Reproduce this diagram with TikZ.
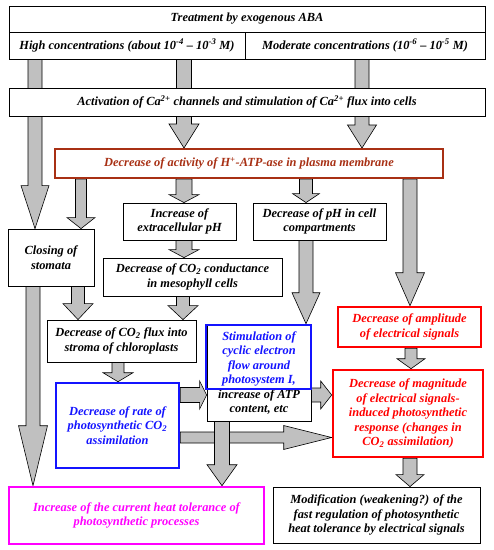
\documentclass[tikz,border=0pt]{standalone}
\usepackage{fontspec}
\setmainfont{Liberation Serif}
\usetikzlibrary{calc}
\pgfdeclarelayer{bg}
\pgfsetlayers{bg,main}
\definecolor{arrgray}{RGB}{192,192,192}
\definecolor{brownred}{RGB}{168,48,20}
\definecolor{bluebox}{RGB}{20,20,255}
\definecolor{redbox}{RGB}{255,0,0}
\definecolor{magbox}{RGB}{255,0,255}
\tikzset{
  box/.style={draw=black, line width=0.8pt, fill=white, align=center, inner sep=0pt,
    font=\fontsize{12.4}{14.5}\selectfont\bfseries\itshape},
  blockarrow/.style={draw=black, line width=0.6pt, fill=arrgray},
}
\newcommand\varr[6]{\path[blockarrow] let \p1=(#2), \p2=(#3), \p3=(#1,0) in
  (\x3-#4,\y1) -- (\x3-#4,\y2+#6) -- (\x3-#5,\y2+#6) -- (\x3,\y2) -- (\x3+#5,\y2+#6) -- (\x3+#4,\y2+#6) -- (\x3+#4,\y1) -- cycle;}
\newcommand\harr[6]{\path[blockarrow] let \p1=(#2), \p2=(#3), \p3=(0,#1) in
  (\x1,\y3+#4) -- (\x2-#6,\y3+#4) -- (\x2-#6,\y3+#5) -- (\x2,\y3) -- (\x2-#6,\y3-#5) -- (\x2-#6,\y3-#4) -- (\x1,\y3-#4) -- cycle;}
\begin{document}
\begin{tikzpicture}[x=1pt,y=-1pt]
\useasboundingbox (0,0) rectangle (494,550);
% top boxes
\node[box, minimum width=476pt, minimum height=26pt] (T) at (247,19) {Treatment by exogenous ABA};
\node[box, minimum width=236pt, minimum height=27pt] (H) at (127,45.5) {High concentrations (about 10\textsuperscript{-4} -- 10\textsuperscript{-3} M)};
\node[box, minimum width=240pt, minimum height=27pt] (M) at (365,45.5) {Moderate concentrations (10\textsuperscript{-6} -- 10\textsuperscript{-5} M)};
\node[box, minimum width=476pt, minimum height=28pt] (Act) at (247,102) {Activation of Ca\textsuperscript{2+} channels and stimulation of Ca\textsuperscript{2+} flux into cells};
\node[box, draw=brownred, line width=2pt, text=brownred, minimum width=388pt, minimum height=29pt] (HP) at (249,163.5) {Decrease of activity of H\textsuperscript{+}-ATP-ase in plasma membrane};
\node[box, minimum width=86pt, minimum height=57pt] (CS) at (51,257.5) {Closing of\\stomata};
\node[box, minimum width=113pt, minimum height=37pt] (IP) at (179.5,221.5) {Increase of\\extracellular pH};
\node[box, minimum width=133pt, minimum height=37pt] (DP) at (319.5,221.5) {Decrease of pH in cell\\compartments};
\node[box, minimum width=179pt, minimum height=38pt] (CC) at (192.5,277) {Decrease of CO\textsubscript{2} conductance\\in mesophyll cells};
\node[box, minimum width=149pt, minimum height=42pt] (CF) at (121.5,341) {Decrease of CO\textsubscript{2} flux into\\stroma of chloroplasts};
\node[box, draw=redbox, line width=2.6pt, text=redbox, minimum width=143pt, minimum height=40pt] (AMP) at (409.5,327) {Decrease of amplitude\\of electrical signals};
\node[box, minimum width=104pt, minimum height=96pt] (ATPB) at (259,373) {\textcolor{bluebox}{Stimulation of}\\\textcolor{bluebox}{cyclic electron}\\\textcolor{bluebox}{flow around}\\\textcolor{bluebox}{photosystem I,}\\increase of ATP\\content, etc};
\node[draw=bluebox, line width=2.6pt, minimum width=105pt, minimum height=64pt, inner sep=0pt] (STIM) at (258.5,357) {};
\node[box, draw=bluebox, line width=2.6pt, text=bluebox, minimum width=123pt, minimum height=85pt] (DR) at (117.5,425.5) {Decrease of rate of\\photosynthetic CO\textsubscript{2}\\assimilation};
\node[box, draw=redbox, line width=2.6pt, text=redbox, minimum width=150pt, minimum height=87pt] (MAG) at (408,413.5) {Decrease of magnitude\\of electrical signals-\\induced photosynthetic\\response (changes in\\CO\textsubscript{2} assimilation)};
\node[box, draw=magbox, line width=2.6pt, text=magbox, minimum width=255pt, minimum height=57pt] (MGT) at (136.5,515.5) {Increase of the current heat tolerance of\\photosynthetic processes};
\node[box, minimum width=207pt, minimum height=56pt] (MOD) at (376.5,515) {Modification (weakening?) of the\\fast regulation of photosynthetic\\heat tolerance by electrical signals};
% arrows
\begin{pgfonlayer}{bg}
\varr{35}{H.south}{CS.north}{7pt}{14pt}{43pt}
\varr{184}{H.south}{HP.north}{7.5pt}{15pt}{24pt}
\varr{362}{M.south}{HP.north}{7pt}{14.5pt}{23pt}
\varr{81}{HP.south}{CS.north}{5.5pt}{14pt}{11pt}
\varr{184}{HP.south}{IP.north}{8pt}{15pt}{8pt}
\varr{306}{HP.south}{DP.north}{6.5pt}{13.5pt}{9pt}
\varr{410}{HP.south}{AMP.north}{7pt}{14.5pt}{33pt}
\varr{184}{IP.south}{CC.north}{8pt}{15pt}{8pt}
\varr{78}{CS.south}{CF.north}{6.5pt}{15pt}{16pt}
\varr{183}{CC.south}{CF.north}{6.5pt}{15pt}{14pt}
\varr{306}{DP.south}{STIM.north}{7pt}{14pt}{31pt}
\varr{118}{CF.south}{DR.north}{6pt}{15pt}{9pt}
\harr{395}{DR.east}{ATPB.west}{7.5pt}{14pt}{7pt}
\harr{395}{ATPB.east}{MAG.west}{7pt}{14pt}{11pt}
\harr{437.5}{DR.east}{MAG.west}{5.5pt}{12pt}{48pt}
\varr{33}{CS.south}{MGT.north}{7pt}{14.5pt}{60pt}
\varr{222}{ATPB.south}{MGT.north}{7.5pt}{15pt}{21pt}
\varr{411}{AMP.south}{MAG.north}{6pt}{14pt}{10pt}
\varr{410}{MAG.south}{MOD.north}{7pt}{14pt}{12pt}
\end{pgfonlayer}
\end{tikzpicture}
\end{document}
